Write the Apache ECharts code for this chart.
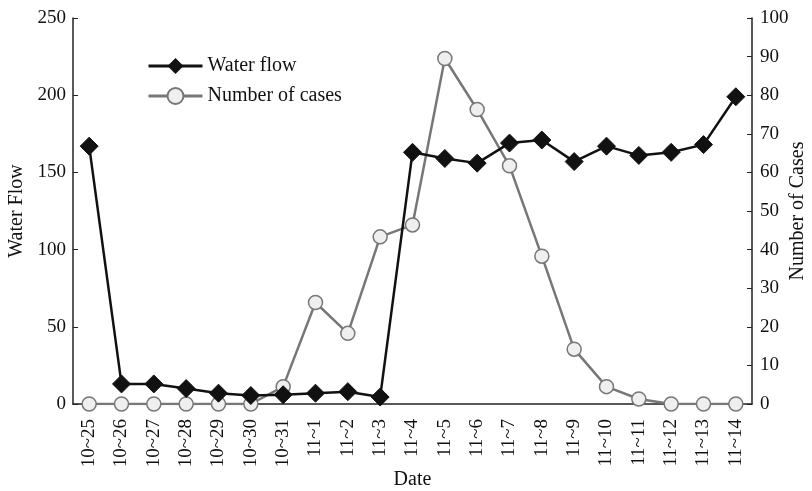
<!DOCTYPE html>
<html><head><meta charset="utf-8">
<script src="https://cdn.jsdelivr.net/npm/echarts@6/dist/echarts.min.js"></script>
<style>html,body{margin:0;padding:0;background:#fff}#c{width:812px;height:491px}</style>
</head><body><div id="c"></div>
<script>
const dates = ['10~25','10~26','10~27','10~28','10~29','10~30','10~31','11~1','11~2','11~3','11~4','11~5','11~6','11~7','11~8','11~9','11~10','11~11','11~12','11~13','11~14'];
const waterFlow = [167,13,13,10,7,5.5,6,7,8,4.5,163,159,156,169,171,157,167,161,163,168,199];
const cases = [0,0,0,0,0,0,4.5,26.3,18.3,43.3,46.4,89.5,76.3,61.7,38.3,14.2,4.5,1.3,0,0,0];
const leftTicks = [0,50,100,150,200,250];
const rightTicks = [0,10,20,30,40,50,60,70,80,90,100];

const font = 'Liberation Serif';
const chart = echarts.init(document.getElementById('c'));
chart.setOption({
  animation:false,
  textStyle:{fontFamily:font},
  grid:{left:73,right:60,top:18,bottom:87,containLabel:false,outerBoundsMode:'none'},
  legend:{
    left:142, top:51, orient:'vertical', itemWidth:54, itemHeight:20, itemGap:10,
    textStyle:{fontFamily:font,fontSize:20,color:'#111'},
    lineStyle:{width:3},
    data:['Water flow','Number of cases']
  },
  xAxis:{
    type:'category', data:dates, boundaryGap:true,
    name:'Date', nameLocation:'middle', nameGap:66, nameMoveOverlap:false,
    nameTextStyle:{fontFamily:font,fontSize:20,color:'#111'},
    axisLine:{lineStyle:{color:'#222',width:1.5}},
    axisTick:{inside:true,length:5,alignWithLabel:false,lineStyle:{color:'#222'}},
    axisLabel:{rotate:90,fontFamily:font,fontSize:19,color:'#111',margin:15,interval:0}
  },
  yAxis:[{
    type:'value', min:leftTicks[0], max:leftTicks[leftTicks.length-1], interval:50,
    name:'Water Flow', nameLocation:'middle', nameGap:46, nameRotate:90, nameMoveOverlap:false,
    nameTextStyle:{fontFamily:font,fontSize:20,color:'#111'},
    axisLine:{show:true,lineStyle:{color:'#222',width:1.5}},
    axisTick:{show:true,inside:true,length:5,lineStyle:{color:'#222'}},
    splitLine:{show:false},
    axisLabel:{fontFamily:font,fontSize:19,color:'#111',margin:7}
  },{
    type:'value', min:rightTicks[0], max:rightTicks[rightTicks.length-1], interval:10, position:'right',
    name:'Number of Cases', nameLocation:'middle', nameGap:36, nameRotate:90, nameMoveOverlap:false,
    nameTextStyle:{fontFamily:font,fontSize:20,color:'#111'},
    axisLine:{show:true,lineStyle:{color:'#222',width:1.5}},
    axisTick:{show:true,inside:true,length:5,lineStyle:{color:'#222'}},
    splitLine:{show:false},
    axisLabel:{fontFamily:font,fontSize:19,color:'#111',margin:8}
  }],
  series:[{
    name:'Water flow', type:'line', yAxisIndex:0, data:waterFlow,
    symbol:'diamond', symbolSize:18, z:3,
    lineStyle:{color:'#111',width:2.5},
    itemStyle:{color:'#111',borderColor:'#111'}
  },{
    name:'Number of cases', type:'line', yAxisIndex:1, data:cases,
    symbol:'circle', symbolSize:14, z:2,
    lineStyle:{color:'#777',width:2.5},
    itemStyle:{color:'#efefef',borderColor:'#777',borderWidth:1.5}
  }]
});
</script></body></html>
